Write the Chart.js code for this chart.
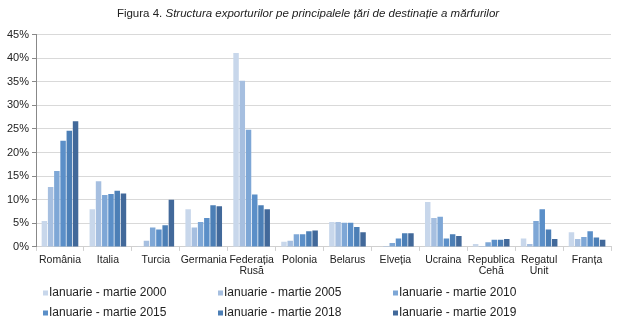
<!DOCTYPE html>
<html>
<head>
<meta charset="utf-8">
<script src="https://cdn.jsdelivr.net/npm/chart.js@4"></script>
<style>
  html, body { margin: 0; padding: 0; background: #fff; }
  #wrap { position: relative; width: 620px; height: 324px; }
</style>
</head>
<body>
<div id="wrap"><canvas id="c" width="620" height="324"></canvas></div>
<script>
// Countries of destination
const categories = ['România', 'Italia', 'Turcia', 'Germania', ['Federația', 'Rusă'], 'Polonia',
  'Belarus', 'Elveția', 'Ucraina', ['Republica', 'Cehă'], ['Regatul', 'Unit'], 'Franța'];

// Share of total exports, % (January–March of each year)
const y2000 = [5.5, 8.0, 0.15, 8.0, 41.1, 1.1, 5.3, 0.1, 9.5, 0.6, 1.8, 3.1];
const y2005 = [12.7, 13.9, 1.3, 4.1, 35.2, 1.3, 5.3, 0.2, 6.1, 0.2, 0.6, 1.7];
const y2010 = [16.1, 11.0, 4.1, 5.3, 24.8, 2.7, 5.1, 0.8, 6.4, 1.0, 5.5, 2.1];
const y2015 = [22.5, 11.2, 3.7, 6.1, 11.1, 2.7, 5.1, 1.8, 1.8, 1.5, 8.0, 3.3];
const y2018 = [24.6, 11.9, 4.6, 8.8, 8.8, 3.3, 4.2, 2.9, 2.7, 1.5, 3.7, 2.0];
const y2019 = [26.6, 11.3, 10.0, 8.6, 8.0, 3.5, 3.1, 2.9, 2.3, 1.7, 1.7, 1.5];

const seriesLabels = ['Ianuarie - martie 2000', 'Ianuarie - martie 2005', 'Ianuarie - martie 2010',
  'Ianuarie - martie 2015', 'Ianuarie - martie 2018', 'Ianuarie - martie 2019'];
const yTicks = [0, 5, 10, 15, 20, 25, 30, 35, 40, 45];

const colors = ['#c8d7eb', '#a6bfe0', '#7ea7d6', '#5b8fc8', '#4c7fb6', '#42699a'];
const FONT = '"Liberation Sans", Arial, sans-serif';

const seriesValues = [y2000, y2005, y2010, y2015, y2018, y2019];

// Heading with a plain prefix and an italic body
const headingPlugin = {
  id: 'heading',
  afterDraw(chart) {
    const ctx = chart.ctx;
    const a = 'Figura 4. ';
    const b = 'Structura exporturilor pe principalele țări de destinație a mărfurilor';
    ctx.save();
    ctx.fillStyle = '#222';
    ctx.textBaseline = 'middle';
    ctx.font = '11.5px ' + FONT;
    const wa = ctx.measureText(a).width;
    ctx.font = 'italic 11.5px ' + FONT;
    const wb = ctx.measureText(b).width;
    const x = 308 - (wa + wb) / 2;
    ctx.font = '11.5px ' + FONT;
    ctx.fillText(a, x, 14);
    ctx.font = 'italic 11.5px ' + FONT;
    ctx.fillText(b, x + wa, 14);
    ctx.restore();
  }
};

// Three-column legend under the axis labels
const gridLegendPlugin = {
  id: 'gridLegend',
  afterDraw(chart) {
    const ctx = chart.ctx;
    const colX = [43, 218, 393];
    const rowY = [293, 313];
    ctx.save();
    ctx.font = '12px ' + FONT;
    ctx.textBaseline = 'middle';
    chart.data.datasets.forEach((ds, i) => {
      const x = colX[i % 3];
      const y = rowY[Math.floor(i / 3)];
      ctx.fillStyle = ds.backgroundColor;
      ctx.fillRect(x, y - 2.5, 5, 5);
      ctx.fillStyle = '#222';
      ctx.fillText(ds.label, x + 6, y);
    });
    ctx.restore();
  }
};

new Chart(document.getElementById('c'), {
  type: 'bar',
  data: {
    labels: categories,
    datasets: seriesValues.map((vals, i) => ({
      label: seriesLabels[i],
      data: vals,
      backgroundColor: colors[i],
      borderWidth: 0,
      barPercentage: 0.88,
      categoryPercentage: 0.78
    }))
  },
  options: {
    responsive: false,
    animation: false,
    devicePixelRatio: 1,
    layout: { padding: { top: 34.5, right: 9, bottom: 44, left: 4 } },
    plugins: {
      legend: { display: false },
      title: { display: false },
      tooltip: { enabled: false }
    },
    scales: {
      x: {
        grid: {
          display: true,
          drawOnChartArea: false,
          drawTicks: true,
          tickLength: 4,
          tickColor: '#d0d0d0',
          offset: true
        },
        border: { display: true, color: '#d0d0d0', width: 1 },
        ticks: {
          autoSkip: false,
          maxRotation: 0,
          minRotation: 0,
          padding: 3,
          color: '#222',
          font: { family: FONT, size: 10.5, lineHeight: 1.1 }
        }
      },
      y: {
        min: 0,
        max: 45,
        afterBuildTicks(scale) {
          scale.ticks = yTicks.map(v => ({ value: v }));
        },
        grid: {
          color: '#d9d9d9',
          lineWidth: 1,
          drawTicks: true,
          tickLength: 4,
          tickColor: '#888'
        },
        border: { display: true, color: '#888', width: 1 },
        ticks: {
          padding: 3,
          color: '#222',
          font: { family: FONT, size: 11 },
          callback: v => v + '%'
        }
      }
    }
  },
  plugins: [headingPlugin, gridLegendPlugin]
});
</script>
</body>
</html>
